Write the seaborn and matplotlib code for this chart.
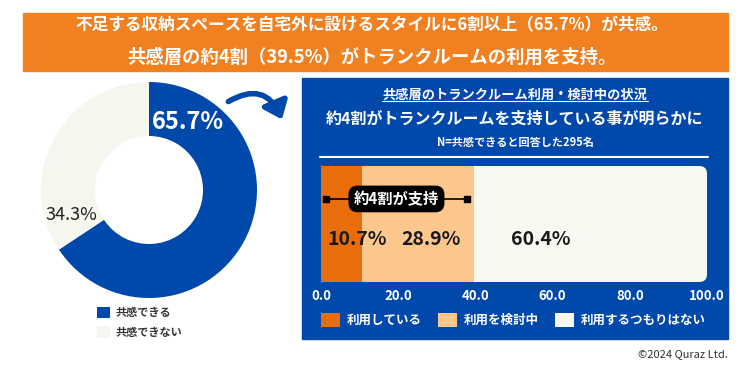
import numpy as np
import pandas as pd
import seaborn as sbn
import matplotlib
matplotlib.use("Agg")
import matplotlib.pyplot as plt
from matplotlib.patches import Rectangle, FancyBboxPatch, FancyArrowPatch, Patch
from matplotlib.lines import Line2D

# datos
donut_labels = ["共感できる", "共感できない"]
donut_values = [65.7, 34.3]
bar_labels = ["利用している", "利用を検討中", "利用するつもりはない"]
bar_values = [10.7, 28.9, 60.4]
xticks = [0, 20, 40, 60, 80, 100]

ORANGE = "#F08020"
BLUE = "#0048AA"
LIGHT = "#F5F7EE"
bar_colors = ["#E96E0B", "#FBC78D", "#F8F8F0"]

sbn.set_theme(style="white")
plt.rcParams["font.family"] = ["Noto Sans CJK JP", "DejaVu Sans"]

fig = plt.figure(figsize=(7.5, 3.7), dpi=100)


def fx(px):
    return px / 750


def fy(py):
    return 1 - py / 370


# banner naranja
fig.patches.append(Rectangle((fx(23), fy(71)), fx(728) - fx(23), fy(13) - fy(71),
                             transform=fig.transFigure, color=ORANGE, zorder=-1))
fig.text(fx(372), fy(25), "不足する収納スペースを自宅外に設けるスタイルに6割以上（65.7%）が共感。",
         ha="center", va="center", color="white", fontsize=12, fontweight="bold")
fig.text(fx(372), fy(57), "共感層の約4割（39.5%）がトランクルームの利用を支持。",
         ha="center", va="center", color="white", fontsize=13.2, fontweight="bold")

# panel azul
fig.patches.append(Rectangle((fx(302), fy(339)), fx(728) - fx(302), fy(78) - fy(339),
                             transform=fig.transFigure, color=BLUE, zorder=-1))
fig.text(fx(515), fy(95), "共感層のトランクルーム利用・検討中の状況",
         ha="center", va="center", color="white", fontsize=9.5, fontweight="bold")
fig.add_artist(Line2D([fx(382), fx(648)], [fy(101), fy(101)], color="white", lw=0.8))
fig.text(fx(515), fy(119), "約4割がトランクルームを支持している事が明らかに",
         ha="center", va="center", color="white", fontsize=11.5, fontweight="bold")
fig.text(fx(515), fy(142), "N=共感できると回答した295名",
         ha="center", va="center", color="white", fontsize=8, fontweight="bold")
fig.add_artist(Line2D([fx(320), fx(708)], [fy(157), fy(157)], color="white", lw=1.5))

# donut
ax_d = fig.add_axes([fx(41), fy(298), 216 / 750, 216 / 370])
ax_d.pie(donut_values, colors=[BLUE, LIGHT], startangle=90, counterclock=False,
         wedgeprops=dict(width=0.5, edgecolor="none"))
ax_d.set_xlim(-1, 1)
ax_d.set_ylim(-1, 1)
ax_d.text(0.36, 0.63, f"{donut_values[0]}%", ha="center", va="center",
          color="white", fontsize=17, fontweight="bold")
ax_d.text(-0.72, -0.23, f"{donut_values[1]}%", ha="center", va="center",
          color="#222222", fontsize=13)
leg_d = ax_d.legend(handles=[Patch(facecolor=BLUE, edgecolor="none"), Patch(facecolor=LIGHT, edgecolor="none")],
                    labels=donut_labels, loc="upper left", bbox_to_anchor=(fx(97), fy(306)),
                    bbox_transform=fig.transFigure, frameon=False, fontsize=8,
                    handlelength=1.2, handleheight=1.2, labelspacing=0.6,
                    handletextpad=0.5, borderpad=0, borderaxespad=0)
for t in leg_d.get_texts():
    t.set_color("#333333")
    t.set_fontweight("bold")

# flecha
fig.patches.append(FancyArrowPatch(posA=(fx(226), fy(103)), posB=(fx(283), fy(122)),
                                   transform=fig.transFigure, connectionstyle="arc3,rad=-0.6",
                                   arrowstyle="-|>,head_length=0.5,head_width=0.4",
                                   mutation_scale=20, lw=4, color=BLUE))

# barra apilada (acumulados dibujados del mayor al menor)
ax_b = fig.add_axes([fx(321), fy(282), 386 / 750, 116 / 370])
cum = np.cumsum(bar_values)
df = pd.DataFrame({"status": bar_labels, "cum": cum, "row": [""] * len(bar_labels)})
sbn.barplot(data=df, x="cum", y="row", hue="status", hue_order=bar_labels[::-1],
            palette=dict(zip(bar_labels, bar_colors)), dodge=False, width=1,
            orient="h", saturation=1, legend=False, ax=ax_b)
ax_b.set_xlim(0, 100)
ax_b.set_ylim(0.5, -0.5)
ax_b.set_facecolor("none")
for s in ax_b.spines.values():
    s.set_visible(False)

clip = FancyBboxPatch((-0.05, 0), 1.05, 1, boxstyle="round,pad=0,rounding_size=0.02",
                      mutation_aspect=386 / 116, transform=ax_b.transAxes,
                      facecolor="none", edgecolor="none")
for p in ax_b.patches:
    p.set_edgecolor("none")
    p.set_clip_path(clip)

ax_b.set_xticks(xticks)
ax_b.set_xticklabels([f"{t:.1f}" for t in xticks])
ax_b.tick_params(axis="x", length=0, pad=5, labelcolor="white", labelsize=9.5)
for lab in ax_b.get_xticklabels():
    lab.set_fontweight("bold")
ax_b.set_yticks([])
ax_b.set_xlabel("")
ax_b.set_ylabel("")

# etiquetas de valores
label_x = [9.3, 28.5, 57.0]
for x, v in zip(label_x, bar_values):
    ax_b.text(x, 0.13, f"{v}%", ha="center", va="center", color="#1a1a1a",
              fontsize=14, fontweight="bold")

# "約4割が支持"
support_start, support_end = 1.3, 37.8
ax_b.plot([support_start, support_end], [-0.216, -0.216], color="black", lw=1.2,
          marker="s", markersize=4)
ax_b.text((support_start + support_end) / 2, -0.216, "約4割が支持", ha="center", va="center",
          color="white", fontsize=11, fontweight="bold",
          bbox=dict(boxstyle="round,pad=0.35,rounding_size=0.6", fc="black", ec="none"))

leg_b = ax_b.legend(handles=[Patch(facecolor=c, edgecolor="none") for c in bar_colors],
                    labels=bar_labels, loc="center left", bbox_to_anchor=(fx(321), fy(320)),
                    bbox_transform=fig.transFigure, ncol=3, frameon=False, fontsize=9,
                    handlelength=1.5, handleheight=1.4, handletextpad=0.6,
                    columnspacing=1.25, borderpad=0, borderaxespad=0)
for t in leg_b.get_texts():
    t.set_color("white")
    t.set_fontweight("bold")

fig.text(fx(728), fy(354), "©2024 Quraz Ltd.", ha="right", va="center",
         fontsize=8, color="#333333")

fig.savefig("out.png", dpi=100)
